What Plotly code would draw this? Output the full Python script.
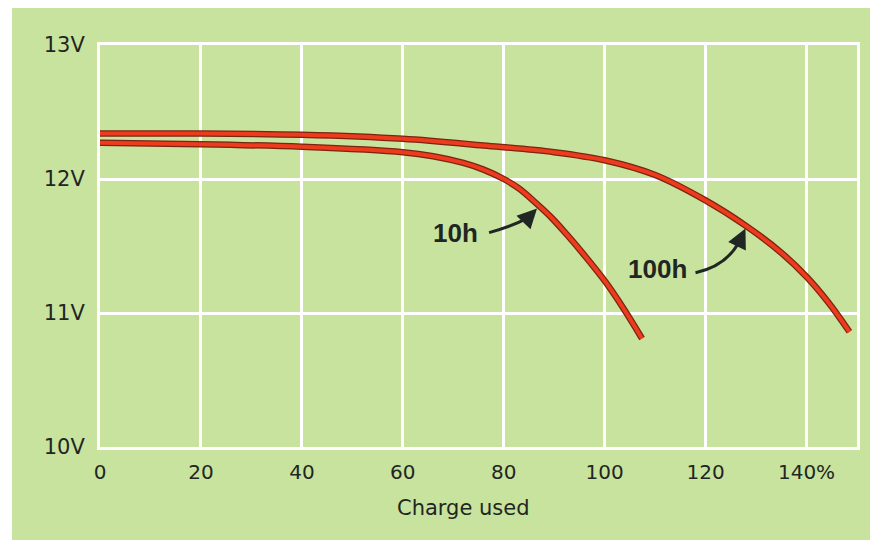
import plotly.graph_objects as go

# ---- data ----
charge_100h = [0, 20, 40, 60, 76, 90, 100, 110, 120, 128, 135, 140, 144.3, 148.5]
volts_100h = [12.34, 12.34, 12.33, 12.30, 12.25, 12.20, 12.14, 12.03, 11.84, 11.65, 11.45, 11.27, 11.08, 10.86]

charge_10h = [0, 20, 40, 60, 66, 72, 76, 80, 83, 86.4, 89.5, 92.4, 96, 100.2, 103.8, 107.4]
volts_10h = [12.27, 12.26, 12.24, 12.20, 12.17, 12.12, 12.07, 12.00, 11.93, 11.82, 11.71, 11.59, 11.43, 11.23, 11.03, 10.81]

x_ticks = [0, 20, 40, 60, 80, 100, 120, 140]
x_tick_labels = ["0", "20", "40", "60", "80", "100", "120", "140%"]
y_ticks = [10, 11, 12, 13]
y_tick_labels = ["10V", "11V", "12V", "13V"]

# label positions (data coords) and curved arrow geometry: start, control, head base, tip
label_10h = (70.5, 11.60)
arrow_10h = [(77.1, 11.60), (81.8, 11.65), (84.8, 11.71), (86.6, 11.78)]
label_100h = (110.4, 11.33)
arrow_100h = [(118.0, 11.30), (123.9, 11.35), (126.5, 11.52), (127.9, 11.63)]

GREEN = "#c7e39d"
RED = "#ec3b1d"
DARK = "#7a2412"
INK = "#1f2623"

fig = go.Figure()
for xs, ys in [(charge_100h, volts_100h), (charge_10h, volts_10h)]:
    fig.add_trace(go.Scatter(x=xs, y=ys, mode="lines",
                             line=dict(color=DARK, width=6.5, shape="spline", smoothing=1.0),
                             hoverinfo="skip", showlegend=False))
    fig.add_trace(go.Scatter(x=xs, y=ys, mode="lines",
                             line=dict(color=RED, width=4, shape="spline", smoothing=1.0),
                             showlegend=False))

shapes = []
annotations = []
for (lx, ly), txt, arr in [(label_10h, "10h", arrow_10h), (label_100h, "100h", arrow_100h)]:
    annotations.append(dict(x=lx, y=ly, xref="x", yref="y", text=f"<b>{txt}</b>", showarrow=False,
                            font=dict(family="Liberation Sans", size=26, color=INK),
                            xanchor="center", yanchor="middle"))
    (sx, sy), (cx, cy), (hx, hy), (tx, ty) = arr
    shapes.append(dict(type="path", xref="x", yref="y",
                       path=f"M {sx},{sy} Q {cx},{cy} {hx},{hy}",
                       line=dict(color=INK, width=3)))
    annotations.append(dict(x=tx, y=ty, ax=hx, ay=hy, xref="x", yref="y", axref="x", ayref="y",
                            text="", showarrow=True, arrowhead=2, arrowsize=1.3,
                            arrowwidth=3, arrowcolor=INK, standoff=0, startstandoff=0))

# title of x axis
annotations.append(dict(x=72, y=-0.152, xref="x", yref="paper", text="Charge used", showarrow=False,
                        font=dict(family="DejaVu Sans", size=21, color=INK),
                        xanchor="center", yanchor="middle"))

# thin white outer margin on the left
shapes.append(dict(type="rect", xref="paper", yref="paper", x0=-0.125, x1=-0.1162, y0=-0.3, y1=1.2,
                   fillcolor="white", line=dict(width=0), layer="below"))

fig.update_layout(
    width=870, height=532,
    margin=dict(l=92, r=21, t=37, b=93),
    paper_bgcolor=GREEN, plot_bgcolor=GREEN,
    shapes=shapes, annotations=annotations,
    showlegend=False,
)
fig.update_xaxes(range=[0, 150], tickvals=x_ticks, ticktext=x_tick_labels,
                 showgrid=True, gridcolor="white", gridwidth=3, zeroline=False,
                 showline=True, mirror=True, linecolor="white", linewidth=3,
                 ticks="", ticklabelstandoff=5,
                 tickfont=dict(family="DejaVu Sans", size=20, color=INK))
fig.update_yaxes(range=[10, 13], tickvals=y_ticks, ticktext=y_tick_labels,
                 showgrid=True, gridcolor="white", gridwidth=3, zeroline=False,
                 showline=True, mirror=True, linecolor="white", linewidth=3,
                 ticks="", ticklabelstandoff=8,
                 tickfont=dict(family="DejaVu Sans", size=21, color=INK))

fig.write_html("out.html")
